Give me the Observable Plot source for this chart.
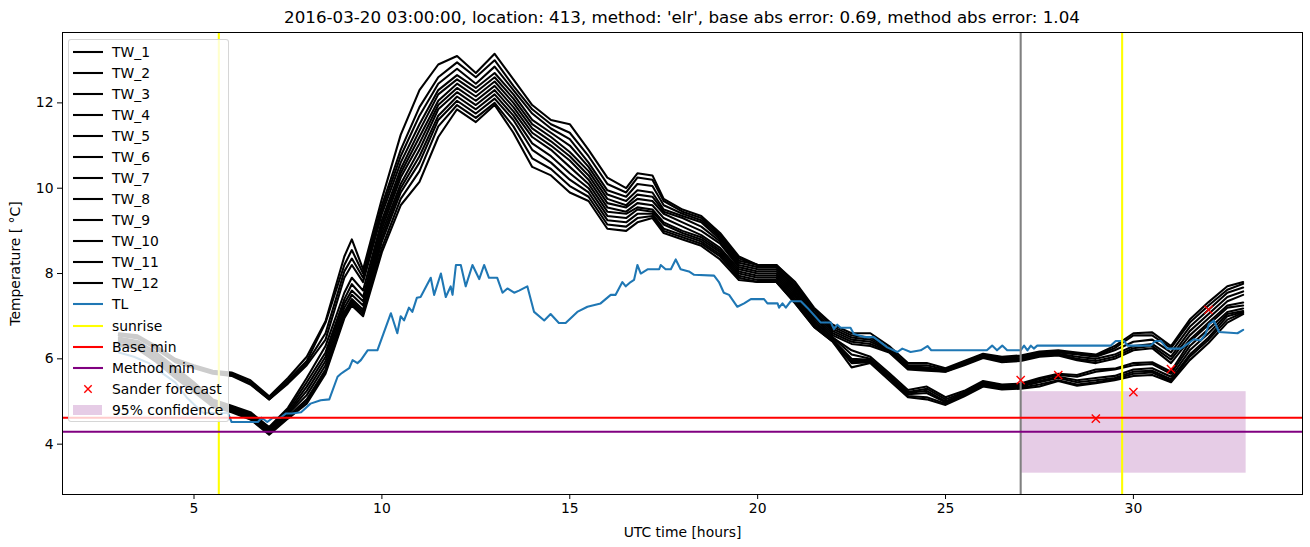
<!DOCTYPE html>
<html>
<head>
<meta charset="utf-8">
<script src="https://cdn.jsdelivr.net/npm/d3@7"></script>
<script src="https://cdn.jsdelivr.net/npm/@observablehq/plot@0.6"></script>
<style>
  body { margin: 0; background: #fff; font-family: "DejaVu Sans", sans-serif; }
  #wrap { position: relative; width: 1310px; height: 547px; background: #fff; }
  #title { position: absolute; left: 62px; width: 1240px; top: 5px; line-height: 24px; text-align: center; font-size: 16.7px; color: #000; white-space: nowrap; }
  #chart { position: absolute; left: 0; top: 28px; }
  #chart svg { display: block; }
  #legend { position: absolute; left: 68px; top: 39px; width: 161px; height: 383px; background: rgba(255,255,255,0.8); border: 1px solid rgba(204,204,204,0.8); border-radius: 3px; box-sizing: border-box; }
  .row { position: absolute; left: 0; height: 20px; width: 100%; }
  .row svg { position: absolute; left: 3px; top: 0; }
  .row span { position: absolute; left: 43px; top: 0; line-height: 20px; font-size: 13.9px; color: #000; white-space: nowrap; }
</style>
</head>
<body>
<div id="wrap">
  <div id="title"></div>
  <div id="chart"></div>
  <div id="legend"></div>
</div>
<script>
const TITLE = "2016-03-20 03:00:00, location: 413, method: 'elr', base abs error: 0.69, method abs error: 1.04";
const X_LABEL = "UTC time [hours]";
const Y_LABEL = "Temperature [ °C]";
const X_TICKS = [5, 10, 15, 20, 25, 30];
const Y_TICKS = [4, 6, 8, 10, 12];

const TW_X = [3.0,3.5,4.0,4.5,5.0,5.5,6.0,6.5,7.0,7.5,8.0,8.5,9.0,9.2,9.5,10.0,10.5,11.0,11.5,12.0,12.5,13.0,13.5,14.0,14.5,15.0,15.5,16.0,16.5,16.8,17.2,17.5,18.0,18.5,19.0,19.5,20.0,20.5,21.0,21.5,22.0,22.5,23.0,23.5,24.0,24.5,25.0,25.5,26.0,26.5,27.0,27.5,28.0,28.5,29.0,29.5,30.0,30.5,31.0,31.5,32.0,32.5,32.92];
const TW_1 = [6.6,6.55,6.3,6.0,5.85,5.72,5.68,5.5,5.12,5.55,6.05,6.88,8.4,8.8,8.1,9.75,11.25,12.3,12.9,13.1,12.7,13.15,12.55,11.95,11.6,11.5,10.9,10.25,10.0,10.35,10.3,9.75,9.5,9.35,8.95,8.4,8.2,8.2,7.8,7.2,6.8,6.6,6.6,6.3,5.9,5.9,5.78,5.95,6.12,6.05,6.08,6.17,6.2,6.15,6.1,6.3,6.6,6.62,6.3,6.92,7.33,7.7,7.8];
const TW_2 = [6.58,6.52,6.28,5.98,5.82,5.7,5.65,5.45,5.1,5.5,5.95,6.85,8.2,8.55,8.0,9.6,10.9,11.9,12.6,12.95,12.6,13.0,12.4,11.85,11.5,11.3,10.75,10.1,9.9,10.25,10.2,9.7,9.45,9.3,8.9,8.35,8.2,8.2,7.75,7.15,6.75,6.55,6.5,6.25,5.85,5.85,5.75,5.93,6.1,6.02,6.05,6.15,6.18,6.12,6.08,6.25,6.55,6.55,6.25,6.85,7.25,7.62,7.76];
const TW_3 = [6.55,6.5,6.25,5.95,5.8,5.68,5.62,5.42,5.05,5.45,5.9,6.6,8.05,8.35,7.9,9.5,10.75,11.7,12.45,12.8,12.45,12.85,12.3,11.75,11.4,11.15,10.6,9.95,9.8,10.1,10.05,9.6,9.4,9.25,8.85,8.3,8.2,8.15,7.7,7.1,6.7,6.5,6.45,6.22,5.82,5.8,5.72,5.9,6.1,6.0,6.02,6.12,6.15,6.1,6.05,6.2,6.4,6.45,6.15,6.75,7.15,7.55,7.67];
const TW_4 = [6.55,6.48,6.22,5.92,5.78,5.65,5.6,5.4,5.05,5.42,5.85,6.45,7.9,8.2,7.8,9.4,10.6,11.5,12.3,12.65,12.35,12.7,12.2,11.6,11.3,11.0,10.5,9.85,9.7,9.95,9.9,9.5,9.35,9.2,8.8,8.25,8.15,8.15,7.65,7.05,6.65,6.45,6.4,6.2,5.8,5.78,5.72,5.9,6.08,5.98,6.0,6.1,6.12,6.05,6.0,6.1,6.3,6.35,6.05,6.65,7.05,7.45,7.58];
const TW_5 = [6.5,6.42,6.15,5.8,5.45,5.05,4.9,4.75,4.4,4.85,5.55,6.3,7.55,7.9,7.6,9.25,10.45,11.35,12.2,12.55,12.25,12.6,12.1,11.5,11.2,10.85,10.4,9.75,9.6,9.85,9.8,9.45,9.3,9.1,8.75,8.2,8.1,8.1,7.6,7.0,6.6,6.4,6.35,6.18,5.77,5.75,5.7,5.88,6.05,5.95,5.97,6.08,6.1,6.0,5.95,6.05,6.25,6.3,5.98,6.55,6.95,7.35,7.5];
const TW_6 = [6.48,6.4,6.12,5.75,5.42,5.02,4.88,4.72,4.38,4.8,5.45,6.15,7.4,7.75,7.45,9.15,10.35,11.2,12.05,12.45,12.15,12.5,12.0,11.4,11.1,10.75,10.3,9.65,9.55,9.75,9.7,9.4,9.2,9.0,8.7,8.15,8.05,8.05,7.55,6.95,6.55,6.35,6.3,6.15,5.75,5.72,5.7,5.85,6.02,5.92,5.95,6.05,6.08,5.97,5.9,6.0,6.2,6.25,5.9,6.45,6.85,7.25,7.32];
const TW_7 = [6.45,6.38,6.1,5.72,5.4,5.0,4.85,4.7,4.35,4.75,5.35,6.05,7.3,7.6,7.35,9.05,10.25,11.05,11.95,12.35,12.05,12.4,11.9,11.3,11.0,10.65,10.2,9.55,9.45,9.65,9.6,9.3,9.1,8.9,8.6,8.1,8.0,8.0,7.5,6.9,6.5,6.2,6.05,5.67,5.27,5.35,5.1,5.25,5.48,5.4,5.42,5.55,5.65,5.62,5.75,5.77,5.9,5.92,5.7,6.4,6.8,7.2,7.25];
const TW_8 = [6.42,6.35,6.05,5.7,5.35,4.98,4.85,4.68,4.32,4.72,5.25,5.95,7.2,7.5,7.25,8.95,10.1,10.9,11.85,12.25,11.95,12.3,11.8,11.2,10.9,10.5,10.1,9.45,9.4,9.55,9.5,9.2,9.0,8.85,8.55,8.05,7.95,7.95,7.45,6.85,6.5,6.1,6.0,5.62,5.22,5.3,5.05,5.22,5.45,5.38,5.4,5.52,5.62,5.58,5.7,5.75,5.85,5.88,5.65,6.3,6.7,7.1,7.18];
const TW_9 = [6.4,6.32,6.02,5.65,5.32,4.95,4.82,4.65,4.3,4.7,5.15,5.85,7.1,7.4,7.15,8.85,10.0,10.75,11.7,12.15,11.85,12.2,11.7,11.05,10.75,10.35,10.0,9.35,9.3,9.5,9.45,9.15,8.95,8.8,8.5,8.0,7.9,7.9,7.4,6.8,6.45,6.0,5.98,5.6,5.2,5.25,5.0,5.2,5.43,5.35,5.38,5.48,5.58,5.5,5.55,5.6,5.75,5.78,5.58,6.2,6.6,7.05,7.12];
const TW_10 = [6.35,6.3,6.0,5.62,5.3,4.92,4.8,4.62,4.28,4.65,5.05,5.75,7.05,7.35,7.1,8.75,9.9,10.6,11.6,12.05,11.75,12.1,11.6,10.9,10.6,10.2,9.9,9.25,9.2,9.4,9.4,9.05,8.9,8.75,8.45,7.95,7.85,7.85,7.35,6.8,6.45,5.95,5.95,5.57,5.17,5.2,4.98,5.18,5.4,5.33,5.35,5.45,5.55,5.45,5.5,5.55,5.7,5.72,5.52,6.1,6.5,7.0,7.1];
const TW_11 = [6.32,6.25,5.95,5.6,5.25,4.9,4.78,4.6,4.25,4.62,5.0,5.7,7.0,7.3,7.05,8.6,9.75,10.4,11.45,11.95,11.65,12.0,11.45,10.7,10.45,10.05,9.8,9.15,9.1,9.3,9.35,9.0,8.85,8.7,8.4,7.9,7.8,7.8,7.3,6.75,6.4,5.9,5.92,5.55,5.13,5.1,4.95,5.15,5.38,5.3,5.32,5.4,5.5,5.4,5.45,5.52,5.65,5.68,5.48,6.05,6.45,6.92,7.08];
const TW_12 = [6.3,6.22,5.92,5.55,5.22,4.88,4.75,4.58,4.22,4.6,4.95,5.65,6.95,7.25,7.0,8.5,9.6,10.15,11.2,11.85,11.55,11.95,11.3,10.5,10.3,9.9,9.7,9.05,9.0,9.2,9.3,8.95,8.8,8.65,8.33,7.85,7.8,7.8,7.3,6.75,6.4,5.8,5.9,5.5,5.1,5.05,4.92,5.12,5.35,5.28,5.3,5.35,5.48,5.37,5.43,5.5,5.6,5.62,5.45,5.97,6.37,6.85,7.05];

const TL_X = [3.0,3.4,3.8,4.1,4.5,4.8,5.1,5.25,5.9,6.0,6.7,6.8,6.95,7.1,7.3,7.45,7.6,7.85,8.1,8.37,8.6,8.82,8.91,8.99,9.13,9.22,9.35,9.44,9.62,9.88,10.24,10.41,10.5,10.59,10.72,10.81,10.93,11.03,11.3,11.39,11.57,11.7,11.83,11.88,11.97,12.1,12.23,12.41,12.59,12.72,12.85,13.07,13.21,13.34,13.52,13.65,13.87,14.05,14.32,14.49,14.71,14.89,15.2,15.47,15.82,16.09,16.22,16.4,16.49,16.62,16.71,16.8,16.89,17.07,17.38,17.42,17.55,17.69,17.82,17.95,18.17,18.31,18.84,18.97,19.1,19.24,19.46,19.64,19.82,20.17,20.26,20.53,20.57,20.66,20.75,20.88,21.15,21.32,21.68,21.95,22.03,22.12,22.21,22.47,22.56,22.83,23.09,23.45,23.72,23.85,24.07,24.34,24.52,24.62,25.05,26.1,26.24,26.37,26.51,26.64,26.9,27.0,27.09,27.18,27.27,27.35,27.44,29.4,29.53,29.75,29.84,30.46,30.59,30.73,30.9,31.26,31.44,31.61,31.79,31.92,32.01,32.14,32.28,32.77,32.92];
const TL_Y = [6.15,6.05,5.9,5.7,5.45,5.1,4.85,4.73,4.73,4.52,4.52,4.62,4.52,4.62,4.62,4.72,4.72,4.75,4.95,5.03,5.05,5.58,5.65,5.7,5.78,5.97,5.9,5.97,6.2,6.2,7.07,6.6,7.0,6.9,7.2,7.1,7.43,7.45,7.9,7.5,8.0,7.45,7.7,7.5,8.2,8.2,7.7,8.2,7.87,8.2,7.9,7.9,7.55,7.65,7.55,7.6,7.7,7.1,6.9,7.05,6.84,6.84,7.1,7.22,7.3,7.5,7.5,7.8,7.7,7.8,7.85,8.2,8.0,8.1,8.1,8.2,8.1,8.1,8.33,8.1,8.05,7.97,7.95,7.8,7.55,7.5,7.22,7.3,7.4,7.4,7.3,7.3,7.2,7.3,7.2,7.35,7.35,7.2,6.85,6.85,6.7,6.8,6.73,6.73,6.58,6.51,6.51,6.27,6.16,6.24,6.16,6.2,6.3,6.2,6.2,6.2,6.31,6.2,6.31,6.2,6.2,6.2,6.31,6.2,6.31,6.24,6.31,6.31,6.42,6.42,6.31,6.31,6.42,6.42,6.24,6.24,6.35,6.46,6.43,6.58,6.81,6.9,6.63,6.6,6.68];

const SUNRISE = [5.66, 29.7];
const FORECAST_TIME = [27];
const BASE_MIN = [4.62];
const METHOD_MIN = [4.29];
const SANDER_X = [27, 28, 29, 30, 31, 32];
const SANDER_Y = [5.5, 5.62, 4.6, 5.22, 5.76, 7.15];
const CONF_X = [27, 33];
const CONF_Y = [3.32, 5.23];

const TW_NAMES = ["TW_1","TW_2","TW_3","TW_4","TW_5","TW_6","TW_7","TW_8","TW_9","TW_10","TW_11","TW_12"];
const TW_SERIES = [TW_1,TW_2,TW_3,TW_4,TW_5,TW_6,TW_7,TW_8,TW_9,TW_10,TW_11,TW_12];

const C_TL = "#1f77b4";
const C_CONF = "rgb(230,204,230)";
const LW = 2.08;

const twData = TW_SERIES.flatMap((ys, i) => ys.map((y, j) => ({series: TW_NAMES[i], x: TW_X[j], y})));
const tlData = TL_X.map((x, i) => ({x, y: TL_Y[i]}));
const sanderData = SANDER_X.map((x, i) => ({x, y: SANDER_Y[i]}));
const confData = [{x1: CONF_X[0], x2: CONF_X[1], y1: CONF_Y[0], y2: CONF_Y[1]}];

document.getElementById("title").textContent = TITLE;

const chart = Plot.plot({
  width: 1310,
  height: 519,
  marginLeft: 62,
  marginRight: 8,
  marginTop: 4,
  marginBottom: 53,
  style: {fontFamily: "DejaVu Sans", fontSize: "13.9px", color: "#000", background: "#fff"},
  x: {domain: [1.5, 34.5]},
  y: {domain: [2.82, 13.65]},
  marks: [
    Plot.rect(confData, {x1: "x1", x2: "x2", y1: "y1", y2: "y2", fill: C_CONF}),
    Plot.line(twData, {x: "x", y: "y", z: "series", stroke: "#000", strokeWidth: LW}),
    Plot.line(tlData, {x: "x", y: "y", stroke: C_TL, strokeWidth: LW}),
    Plot.ruleX(SUNRISE, {stroke: "yellow", strokeWidth: LW}),
    Plot.ruleX(FORECAST_TIME, {stroke: "gray", strokeWidth: LW}),
    Plot.ruleY(BASE_MIN, {stroke: "red", strokeWidth: LW}),
    Plot.ruleY(METHOD_MIN, {stroke: "purple", strokeWidth: LW}),
    Plot.dot(sanderData, {x: "x", y: "y", symbol: "times", r: 3.8, stroke: "red", strokeWidth: 1.4}),
    Plot.frame({stroke: "#000", strokeWidth: 1}),
    Plot.axisX({ticks: X_TICKS, tickSize: 5, tickPadding: 4, tickFormat: d => String(d), label: X_LABEL, labelAnchor: "center", labelArrow: "none", labelOffset: 42}),
    Plot.axisY({ticks: Y_TICKS, tickSize: 5, tickPadding: 4, tickFormat: d => String(d), label: Y_LABEL, labelAnchor: "center", labelArrow: "none", labelOffset: 52})
  ]
});
document.getElementById("chart").appendChild(chart);

// legend
const legendItems = [
  ...TW_NAMES.map(n => ({label: n, kind: "line", color: "#000"})),
  {label: "TL", kind: "line", color: C_TL},
  {label: "sunrise", kind: "line", color: "yellow"},
  {label: "Base min", kind: "line", color: "red"},
  {label: "Method min", kind: "line", color: "purple"},
  {label: "Sander forecast", kind: "x", color: "red"},
  {label: "95% confidence", kind: "patch", color: C_CONF}
];
const legend = document.getElementById("legend");
const NS = "http://www.w3.org/2000/svg";
legendItems.forEach((it, i) => {
  const row = document.createElement("div");
  row.className = "row";
  row.style.top = (1.5 + 21.08 * i) + "px";
  const s = document.createElementNS(NS, "svg");
  s.setAttribute("width", "32"); s.setAttribute("height", "20");
  if (it.kind === "line") {
    const l = document.createElementNS(NS, "line");
    l.setAttribute("x1", 1); l.setAttribute("x2", 31); l.setAttribute("y1", 10); l.setAttribute("y2", 10);
    l.setAttribute("stroke", it.color); l.setAttribute("stroke-width", LW);
    s.appendChild(l);
  } else if (it.kind === "x") {
    const p = document.createElementNS(NS, "path");
    p.setAttribute("d", "M12.3,6.3L19.7,13.7M12.3,13.7L19.7,6.3");
    p.setAttribute("stroke", it.color); p.setAttribute("stroke-width", 1.4);
    s.appendChild(p);
  } else {
    const r = document.createElementNS(NS, "rect");
    r.setAttribute("x", 1); r.setAttribute("y", 5); r.setAttribute("width", 29); r.setAttribute("height", 10);
    r.setAttribute("fill", it.color);
    s.appendChild(r);
  }
  row.appendChild(s);
  const t = document.createElement("span");
  t.textContent = it.label;
  row.appendChild(t);
  legend.appendChild(row);
});
</script>
</body>
</html>
